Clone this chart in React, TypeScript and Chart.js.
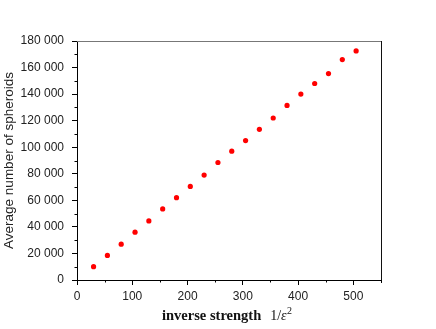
import React, { useEffect, useRef } from "react";
import { Chart, registerables } from "chart.js";

Chart.register(...registerables);

const strengthX = [30, 55, 80, 105, 130, 155, 180, 205, 230, 255, 280, 305, 330, 355, 380, 405, 430, 455, 480, 505];
const spheroidsY = [10000, 18500, 27000, 36000, 44500, 53500, 62000, 70500, 79000, 88500, 97000, 105000, 113500, 122000, 131500, 140000, 148000, 155500, 166000, 172500];
const xMinorTicks = [50, 150, 250, 350, 450, 550];
const yMinorTicks = [10000, 30000, 50000, 70000, 90000, 110000, 130000, 150000, 170000];
const yTitle = "Average number of spheroids";
const xTitleBold = "inverse strength";

const fmt = (v: number) => String(v).replace(/\B(?=(\d{3})+(?!\d))/g, " ");

const framePlugin = {
  id: "frameAndMinor",
  afterDraw(chart: any) {
    const { ctx, chartArea } = chart;
    const xs = chart.scales.x;
    const ys = chart.scales.y;
    ctx.save();
    ctx.lineWidth = 1;
    ctx.strokeStyle = "#777";
    ctx.beginPath();
    ctx.moveTo(chartArea.left, Math.round(chartArea.top) + 0.5);
    ctx.lineTo(chartArea.right, Math.round(chartArea.top) + 0.5);
    ctx.stroke();
    ctx.strokeStyle = "#111";
    ctx.beginPath();
    ctx.moveTo(Math.round(chartArea.right) + 0.5, chartArea.top);
    ctx.lineTo(Math.round(chartArea.right) + 0.5, chartArea.bottom + 3);
    ctx.stroke();
    ctx.strokeStyle = "#000";
    ctx.beginPath();
    for (const v of yMinorTicks) {
      const y = Math.round(ys.getPixelForValue(v)) + 0.5;
      ctx.moveTo(chartArea.left - 2.5, y);
      ctx.lineTo(chartArea.left, y);
    }
    for (const v of xMinorTicks) {
      const x = Math.round(xs.getPixelForValue(v)) + 0.5;
      ctx.moveTo(x, chartArea.bottom);
      ctx.lineTo(x, chartArea.bottom + 2.5);
    }
    ctx.stroke();
    const baseY = 320;
    ctx.fillStyle = "#111";
    ctx.textBaseline = "alphabetic";
    ctx.textAlign = "left";
    ctx.font = "bold 14.5px 'Liberation Serif'";
    let x = 162;
    ctx.fillText(xTitleBold, x, baseY);
    x += ctx.measureText(xTitleBold).width + 9;
    ctx.font = "14px 'Liberation Serif'";
    ctx.fillText("1/", x, baseY);
    x += ctx.measureText("1/").width;
    ctx.font = "italic 14px 'Liberation Serif'";
    ctx.fillText("ε", x, baseY);
    x += ctx.measureText("ε").width + 0.5;
    ctx.font = "10px 'Liberation Serif'";
    ctx.fillText("2", x, baseY - 6);
    ctx.restore();
  },
};

export default function App() {
  const ref = useRef<HTMLCanvasElement | null>(null);
  useEffect(() => {
    document.body.style.margin = "0";
    if (!ref.current) return;
    const chart = new Chart(ref.current, {
      type: "scatter",
      data: {
        datasets: [
          {
            data: strengthX.map((x, i) => ({ x, y: spheroidsY[i] })),
            backgroundColor: "#ff0000",
            borderWidth: 0,
            pointRadius: 2.6,
          },
        ],
      },
      options: {
        animation: false,
        responsive: false,
        layout: { padding: { left: 0, top: 41, right: 55, bottom: 0 } },
        plugins: { legend: { display: false }, tooltip: { enabled: false } },
        scales: {
          x: {
            type: "linear",
            min: 0,
            max: 550,
            afterBuildTicks: (s: any) => {
              s.ticks = s.ticks.filter((t: any) => t.value % 100 === 0);
            },
            afterFit: (s: any) => {
              s.height = 49;
            },
            ticks: {
              stepSize: 50,
              padding: 4,
              color: "#222",
              autoSkip: false,
              font: { family: "'Liberation Sans'", size: 12 },
              maxRotation: 0,
              callback: (v: any) => fmt(Number(v)),
            },
            grid: { drawOnChartArea: false, drawTicks: true, tickLength: 5, tickColor: "#000" },
            border: { display: true, color: "#000", width: 1 },
          },
          y: {
            type: "linear",
            min: 0,
            max: 180000,
            afterFit: (s: any) => {
              s.width = 77;
            },
            ticks: {
              stepSize: 20000,
              padding: 8,
              color: "#222",
              autoSkip: false,
              font: { family: "'Liberation Sans'", size: 12 },
              callback: (v: any) => fmt(Number(v)),
            },
            grid: { drawOnChartArea: false, drawTicks: true, tickLength: 5, tickColor: "#000" },
            border: { display: true, color: "#000", width: 1 },
            title: {
              display: true,
              text: yTitle,
              color: "#222",
              font: { family: "'Liberation Sans'", size: 13.5 },
              padding: { top: 1, bottom: 0 },
            },
          },
        },
      },
      plugins: [framePlugin],
    });
    return () => chart.destroy();
  }, []);
  return (
    <div style={{ width: 436, height: 329 }}>
      <canvas ref={ref} width={436} height={329} style={{ display: "block" }} />
    </div>
  );
}
